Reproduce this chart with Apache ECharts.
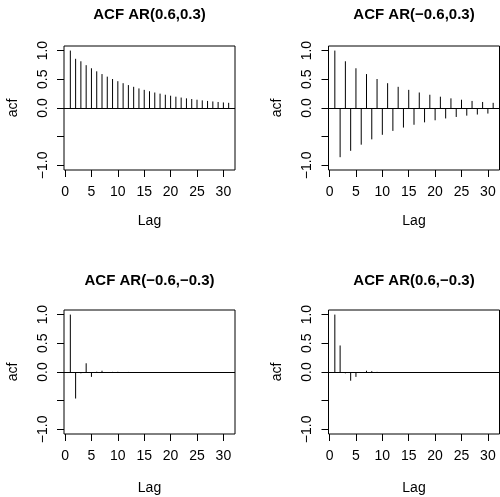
<!DOCTYPE html>
<html>
<head>
<meta charset="utf-8">
<script src="https://cdn.jsdelivr.net/npm/echarts@6/dist/echarts.min.js"></script>
<style>
  html, body { margin: 0; padding: 0; background: #fff; }
  #chart { width: 500px; height: 497px; }
</style>
</head>
<body>
<div id="chart"></div>
<script>
// Theoretical autocorrelations of four AR(2) processes, lag 0 plotted at position 1
const lags = [1, 2, 3, 4, 5, 6, 7, 8, 9, 10, 11, 12, 13, 14, 15, 16,
              17, 18, 19, 20, 21, 22, 23, 24, 25, 26, 27, 28, 29, 30, 31];

const acfPosPos = [1, 0.857, 0.814, 0.746, 0.692, 0.639, 0.591, 0.546, 0.505, 0.467,
                   0.432, 0.399, 0.369, 0.341, 0.316, 0.292, 0.270, 0.250, 0.231, 0.214,
                   0.197, 0.182, 0.168, 0.156, 0.144, 0.133, 0.123, 0.114, 0.105, 0.097, 0.090];

const acfNegPos = [1, -0.857, 0.814, -0.746, 0.692, -0.639, 0.591, -0.546, 0.505, -0.467,
                   0.432, -0.399, 0.369, -0.341, 0.316, -0.292, 0.270, -0.250, 0.231, -0.214,
                   0.197, -0.182, 0.168, -0.156, 0.144, -0.133, 0.123, -0.114, 0.105, -0.097, 0.090];

const acfNegNeg = [1, -0.462, -0.023, 0.152, -0.085, 0.005, 0.022, -0.015, 0.002, 0.003,
                   -0.003, 0.001, 0, 0, 0, 0, 0, 0, 0, 0,
                   0, 0, 0, 0, 0, 0, 0, 0, 0, 0, 0];

const acfPosNeg = [1, 0.462, -0.023, -0.152, -0.085, -0.005, 0.022, 0.015, 0.002, -0.003,
                   -0.003, -0.001, 0, 0, 0, 0, 0, 0, 0, 0,
                   0, 0, 0, 0, 0, 0, 0, 0, 0, 0, 0];

const panelTitles = ['ACF AR(0.6,0.3)', 'ACF AR(\u22120.6,0.3)',
                     'ACF AR(\u22120.6,\u22120.3)', 'ACF AR(0.6,\u22120.3)'];
const panelSeries = [acfPosPos, acfNegPos, acfNegNeg, acfPosNeg];

const xTicks = [0, 5, 10, 15, 20, 25, 30];
const yTicks = [-1, -0.5, 0, 0.5, 1];
const yLabelTicks = [-1, 0, 0.5, 1];

const FONT = '"Liberation Sans", Arial, Helvetica, sans-serif';

// plot-region boxes in a 2 x 2 arrangement
const boxW = 171, boxH = 124;
const boxes = [
  { left: 64,    top: 46,  titleTop: 7.5, lagGap: 44 },
  { left: 328.5, top: 46,  titleTop: 7.5, lagGap: 44 },
  { left: 64,    top: 310, titleTop: 273, lagGap: 47 },
  { left: 328.5, top: 310, titleTop: 273, lagGap: 47 }
];

const axisText = { fontSize: 14, color: '#000', fontFamily: FONT };

const option = {
  animation: false,
  backgroundColor: '#fff',
  title: boxes.map((b, i) => ({
    text: panelTitles[i],
    left: b.left + boxW / 2,
    top: b.titleTop,
    textAlign: 'center',
    padding: 0,
    textStyle: { fontSize: 15, fontWeight: 'bold', color: '#000', fontFamily: FONT }
  })),
  grid: boxes.map(b => ({
    left: b.left, top: b.top, width: boxW, height: boxH,
    show: true, borderColor: '#000', borderWidth: 1, backgroundColor: 'transparent',
    containLabel: false
  })),
  xAxis: boxes.map((b, i) => ({
    type: 'value', gridIndex: i, min: -0.2, max: 32.2,
    position: 'bottom',
    axisLine: { show: false, onZero: false },
    splitLine: { show: false },
    axisTick: { show: true, inside: false, length: 7, customValues: xTicks,
                lineStyle: { color: '#000', width: 1 } },
    axisLabel: Object.assign({ customValues: xTicks, margin: 15 }, axisText),
    name: 'Lag', nameLocation: 'middle', nameGap: b.lagGap,
    nameTextStyle: axisText
  })),
  yAxis: boxes.map((b, i) => ({
    type: 'value', gridIndex: i, min: -1.08, max: 1.08,
    position: 'left',
    axisLine: { show: false, onZero: false },
    splitLine: { show: false },
    axisTick: { show: true, inside: false, length: 7, customValues: yTicks,
                lineStyle: { color: '#000', width: 1 } },
    axisLabel: Object.assign({
      customValues: yLabelTicks, margin: 14, rotate: 90,
      formatter: v => v.toFixed(1).replace('-', '\u2212')
    }, axisText),
    name: 'acf', nameLocation: 'middle', nameGap: 44, nameRotate: 90,
    nameTextStyle: axisText
  })),
  series: panelSeries.map((vals, i) => ({
    type: 'custom',
    xAxisIndex: i, yAxisIndex: i,
    data: lags.map((lag, k) => [lag, vals[k]]),
    renderItem: (params, api) => {
      const base = api.coord([api.value(0), 0]);
      const tip = api.coord([api.value(0), api.value(1)]);
      return {
        type: 'line',
        shape: { x1: base[0], y1: base[1], x2: tip[0], y2: tip[1] },
        style: { stroke: '#000', lineWidth: 1 }
      };
    },
    markLine: {
      silent: true, symbol: 'none', label: { show: false },
      lineStyle: { color: '#000', width: 1, type: 'solid' },
      data: [{ yAxis: 0 }]
    }
  }))
};

echarts.init(document.getElementById('chart'), null, { renderer: 'canvas' }).setOption(option);
</script>
</body>
</html>
